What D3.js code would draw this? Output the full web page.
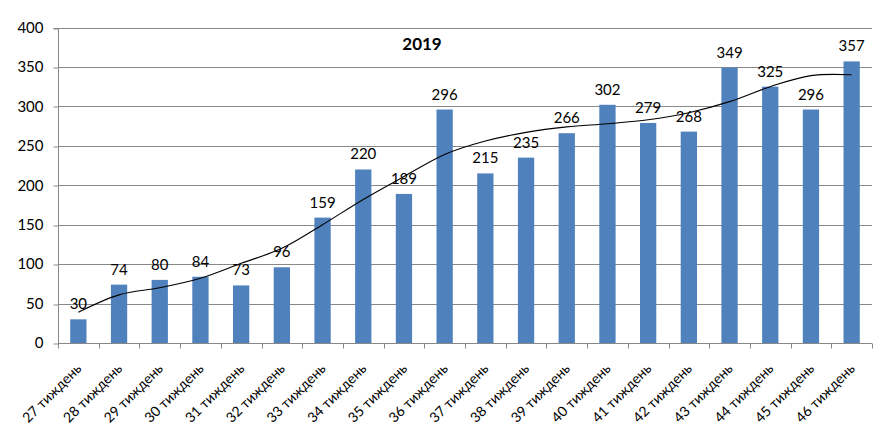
<!DOCTYPE html>
<html><head><meta charset="utf-8">
<script src="https://cdn.jsdelivr.net/npm/d3@7"></script>
<style>body{margin:0;background:#fff}svg{display:block}text{font-family:Lato,"Open Sans",sans-serif}</style>
</head><body><svg id="c" width="889" height="444"></svg>
<script>
const categories = ["27 тиждень","28 тиждень","29 тиждень","30 тиждень","31 тиждень","32 тиждень","33 тиждень","34 тиждень","35 тиждень","36 тиждень","37 тиждень","38 тиждень","39 тиждень","40 тиждень","41 тиждень","42 тиждень","43 тиждень","44 тиждень","45 тиждень","46 тиждень"];
const values = [30,74,80,84,73,96,159,220,189,296,215,235,266,302,279,268,349,325,296,357];
const trend = [39,61,70,82,101,120,150,182,211,239,256,267,274,278,283,292,306,325,339,340];
const yTicks = [0,50,100,150,200,250,300,350,400];
const title = "2019";

const svg = d3.select("#c");
const m = {left:58, right:17, top:27.5, bottom:101};
const W = 889, H = 444;
const x = d3.scaleBand().domain(categories).range([m.left, W - m.right]).paddingInner(0.6).paddingOuter(0.3);
const xb = d3.scaleBand().domain(categories).range([m.left, W - m.right]);
const y = d3.scaleLinear().domain([0,400]).range([H - m.bottom, m.top]);

// gridlines
svg.append("g").selectAll("line").data(yTicks.filter(d=>d>0)).join("line")
  .attr("x1", m.left).attr("x2", W - m.right)
  .attr("y1", d=>Math.round(y(d))+0.5).attr("y2", d=>Math.round(y(d))+0.5)
  .attr("stroke", "#888").attr("stroke-width", 1);

// y axis
const ya = svg.append("g").attr("transform", `translate(${m.left+0.5},0)`)
  .call(d3.axisLeft(y).tickValues(yTicks).tickSize(5).tickPadding(10));
ya.select(".domain").attr("stroke","#888").attr("d", `M-5,${Math.round(y(400))+0.5}H0V${Math.round(y(0))+0.5}`);
ya.selectAll(".tick line").attr("stroke","#888").attr("transform", d=>`translate(0,${Math.round(y(d))+0.5-y(d)})`);
ya.selectAll(".tick text").attr("font-size", 15).attr("fill","#000");

// bars
svg.append("g").selectAll("rect").data(values).join("rect")
  .attr("x", (d,i)=>x(categories[i]))
  .attr("y", d=>y(d)).attr("width", x.bandwidth()).attr("height", d=>y(0)-y(d))
  .attr("fill", "#4F81BD");

// x axis
const baseY = Math.round(y(0))+0.5;
svg.append("line").attr("x1", m.left).attr("x2", W-m.right).attr("y1", baseY).attr("y2", baseY).attr("stroke","#888");
const bounds = categories.map(c=>xb(c)).concat([W-m.right]);
svg.append("g").selectAll("line").data(bounds).join("line")
  .attr("x1", d=>Math.round(d)+0.5).attr("x2", d=>Math.round(d)+0.5)
  .attr("y1", baseY).attr("y2", baseY+5).attr("stroke","#888");

svg.append("g").selectAll("text").data(categories).join("text")
  .attr("transform", d=>`translate(${xb(d)+xb.bandwidth()/2+4},${baseY+26}) rotate(-45)`)
  .attr("text-anchor","end").attr("font-size",14).attr("fill","#000").text(d=>d);

// trendline
const line = d3.line().x((d,i)=>xb(categories[i])+xb.bandwidth()/2).y(d=>y(d)).curve(d3.curveCatmullRom.alpha(0.5));
svg.append("path").datum(trend).attr("d", line).attr("fill","none").attr("stroke","#000").attr("stroke-width",1.1);

// data labels
svg.append("g").selectAll("text").data(values).join("text")
  .attr("x",(d,i)=>xb(categories[i])+xb.bandwidth()/2).attr("y", d=>y(d)-10)
  .attr("text-anchor","middle").attr("font-size",15).attr("fill","#000").text(d=>d);

// title
svg.append("text").attr("x", 422).attr("y", 50).attr("text-anchor","middle")
  .attr("font-size",17).attr("font-weight","bold").attr("fill","#000").text(title);
</script></body></html>
